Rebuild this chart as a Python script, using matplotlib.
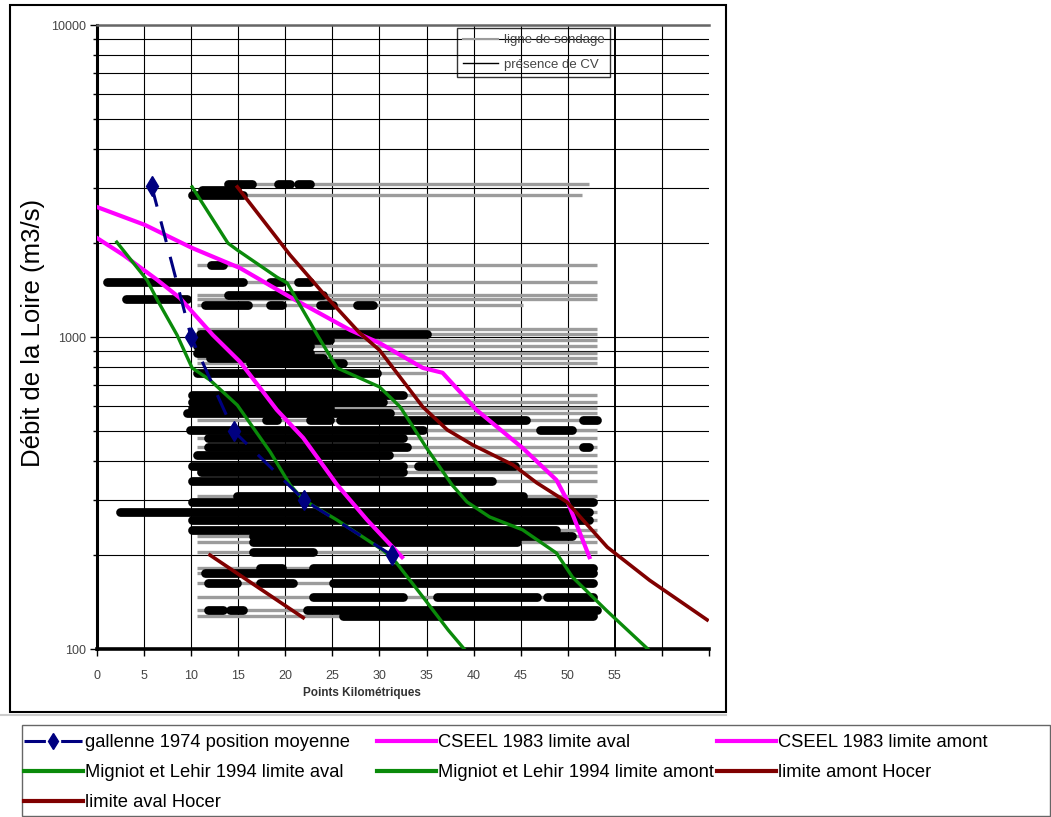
import matplotlib
matplotlib.use("Agg")
import matplotlib.pyplot as plt
from matplotlib.patches import Rectangle
from matplotlib.lines import Line2D

plt.rcParams['font.family'] = ['Liberation Sans', 'DejaVu Sans']

# ---------------- data ----------------
gal_x = [5.8, 10.0, 14.5, 22.0, 31.3]
gal_q = [3050, 1000, 500, 300, 200]

cseel_aval_x = [0, 2.8, 6.4, 8.8, 12.3, 15.2, 19.1, 21.9, 25.5, 28.7, 32.4]
cseel_aval_q = [2076, 1832, 1524, 1334, 1015, 832, 584, 475, 336, 259, 197]

cseel_amont_x = [0, 5.1, 10.1, 15.2, 20.5, 26.9, 30.0, 34.6, 36.7, 40.3, 45.2, 48.8, 49.9, 52.3]
cseel_amont_q = [2610, 2286, 1929, 1663, 1343, 1052, 957, 796, 768, 584, 441, 348, 301, 197]

mig_aval_x = [2.1, 5.3, 6.4, 8.5, 10.1, 12.0, 14.9, 18.4, 20.5, 21.9, 25.5, 30.4, 31.8, 34.6, 37.3, 39.0]
mig_aval_q = [2014, 1524, 1315, 1015, 796, 728, 605, 428, 336, 301, 259, 207, 189, 147, 115, 100]

mig_amont_x = [10.1, 13.9, 14.9, 19.1, 20.2, 23.4, 25.5, 30.0, 32.2, 35.0, 37.7, 39.3, 41.7, 45.2, 48.8, 50.5, 54.1, 58.5]
mig_amont_q = [3027, 2000, 1900, 1556, 1489, 1015, 796, 692, 597, 441, 336, 296, 265, 241, 203, 170, 133, 100]

hoc_amont_x = [14.9, 20.5, 24.0, 27.9, 30.0, 34.6, 37.2, 39.9, 44.2, 46.7, 49.9, 54.2, 58.7, 64.8]
hoc_amont_q = [3027, 1832, 1384, 1030, 908, 597, 504, 451, 389, 341, 296, 212, 166, 124]

hoc_aval_x = [12.0, 21.9]
hoc_aval_q = [200, 126]

# sounding lines (grey)
sonde_q = [3100, 2850, 1700, 1500, 1365, 1320, 1270, 1060, 1020, 980, 935, 890, 855, 825, 765,
           650, 620, 590, 570, 540, 505, 475, 445, 420, 385, 370, 345, 310, 295, 275, 260, 240,
           230, 220, 205, 182, 175, 163, 147, 133, 128]
sonde_x0 = [13.9, 10.1, 10.6, 10.6, 10.6, 10.6, 10.6, 10.6, 10.6, 10.6, 10.6, 10.6, 10.6, 10.6, 10.6,
            10.6, 10.6, 10.6, 10.6, 10.6, 10.6, 10.6, 10.6, 10.6, 10.6, 10.6, 10.6, 10.6, 10.6, 10.6,
            10.6, 10.6, 10.6, 10.6, 10.6, 10.6, 10.6, 10.6, 10.6, 10.6, 10.6]
sonde_x1 = [52.3, 51.5, 53.1, 53.1, 53.1, 53.1, 45.2, 53.1, 53.1, 53.1, 53.1, 53.1, 53.1, 53.1, 35.0,
            53.1, 53.1, 53.1, 53.1, 53.1, 53.1, 53.1, 53.1, 53.1, 53.1, 53.1, 53.1, 53.1, 53.1, 53.1,
            53.1, 53.1, 53.1, 53.1, 53.1, 53.1, 53.1, 53.1, 53.1, 53.1, 53.1]

# presence de crème de vase (black segments)
cv_q = [3100, 3100, 3100, 2950, 2850, 1700, 1500, 1500, 1500, 1365, 1320,
        1270, 1270, 1270, 1270, 1020, 980, 935, 890, 855, 825, 765, 650, 620, 590, 570,
        540, 540, 540, 540, 505, 505, 475, 445, 445, 420, 385, 385, 370, 345, 310, 295,
        275, 260, 240, 230, 220, 205, 182, 182, 175, 163, 163, 163, 147, 147, 147,
        133, 133, 133, 128]
cv_x0 = [13.9, 19.2, 21.3, 11.2, 10.1, 12.1, 1.1, 18.4, 21.3, 13.9, 3.1,
         11.5, 18.4, 23.7, 27.6, 10.9, 10.6, 10.6, 10.6, 12.0, 16.2, 10.6, 10.1, 10.1, 10.1, 9.6,
         18.0, 22.6, 25.8, 51.6, 9.9, 47.0, 11.8, 11.8, 51.6, 10.6, 10.1, 34.1, 11.0, 10.1, 14.9, 10.1,
         2.4, 10.1, 10.1, 16.6, 16.6, 16.6, 17.3, 22.9, 11.5, 11.8, 17.3, 25.1, 22.9, 36.1, 47.8,
         11.8, 14.1, 22.3, 26.1]
cv_x1 = [16.5, 20.5, 22.6, 14.9, 15.5, 13.4, 15.5, 19.7, 22.6, 24.0, 9.6,
         16.0, 19.7, 25.1, 29.3, 35.1, 24.7, 22.6, 22.6, 24.0, 26.1, 29.7, 32.5, 30.4, 24.7, 31.1,
         19.1, 24.7, 45.6, 53.1, 34.6, 50.5, 32.5, 32.9, 52.3, 31.0, 32.5, 44.4, 32.5, 42.0, 45.2, 52.7,
         52.3, 52.3, 48.8, 50.5, 44.6, 22.9, 19.7, 52.7, 52.7, 14.9, 20.8, 52.7, 32.5, 46.7, 52.7,
         13.4, 15.5, 53.1, 52.7]

x_ticks = [0, 5, 10, 15, 20, 25, 30, 35, 40, 45, 50, 55, 60, 65]
x_labels = ['0', '5', '10', '15', '20', '25', '30', '35', '40', '45', '50', '55', '', '']
y_ticks = [100, 1000, 10000]
y_labels = ['100', '1000', '10000']

# ---------------- figure ----------------
W, H = 1051, 817
fig = plt.figure(figsize=(W / 100, H / 100), dpi=100)


def fx(px):
    return px / W


def fy(py):
    return 1 - py / H


ax = fig.add_axes([fx(97), fy(649), fx(709) - fx(97), fy(25) - fy(649)])
ax.set_yscale('log')
ax.set_xlim(0, 65)
ax.set_ylim(100, 10000)

# grid
ax.grid(True, which='both', axis='y', color='black', lw=0.8, zorder=0.5)
for v in x_ticks[1:-1]:
    ax.axvline(v, color='black', lw=1.4 if v == 55 else 0.8, zorder=0.5)
ax.set_axisbelow(True)

# soundings and CV
ax.hlines(sonde_q, sonde_x0, sonde_x1, colors='#9c9c9c', lw=2.4, zorder=2)
ax.hlines(cv_q, cv_x0, cv_x1, colors='black', lw=6.3, zorder=3, capstyle='round')

# curves
ax.plot(cseel_aval_x, cseel_aval_q, color='#ff00ff', lw=3, zorder=5)
ax.plot(cseel_amont_x, cseel_amont_q, color='#ff00ff', lw=3, zorder=5)
ax.plot(mig_aval_x, mig_aval_q, color='#0a8a0a', lw=2.4, zorder=6)
ax.plot(mig_amont_x, mig_amont_q, color='#0a8a0a', lw=2.4, zorder=6)
ax.plot(hoc_amont_x, hoc_amont_q, color='#800000', lw=2.6, zorder=6)
ax.plot(hoc_aval_x, hoc_aval_q, color='#800000', lw=2.6, zorder=6)
ax.plot(gal_x, gal_q, color='#000080', lw=2.2, dashes=(7, 5), marker='d',
        markersize=10, zorder=7)

# axes styling
ax.spines['right'].set_visible(False)
ax.spines['top'].set_color('#666666')
ax.spines['top'].set_linewidth(1.8)
ax.spines['left'].set_linewidth(2.2)
ax.spines['bottom'].set_linewidth(2.6)
ax.set_xticks(x_ticks)
ax.set_xticklabels(x_labels)
ax.set_yticks(y_ticks)
ax.set_yticklabels(y_labels)
ax.tick_params(axis='x', length=5, width=1, pad=10, labelsize=9, labelcolor='#444444')
ax.tick_params(axis='y', which='major', length=5, width=1, pad=3, labelsize=9, labelcolor='#444444')
ax.tick_params(axis='y', which='minor', length=3, width=1, labelleft=False)

# inner legend
inner = ax.legend(handles=[Line2D([], [], color='#9c9c9c', lw=1.5),
                           Line2D([], [], color='black', lw=1)],
                  labels=['ligne de sondage', 'présence de CV'],
                  loc='upper left', bbox_to_anchor=(0.588, 0.995), borderaxespad=0,
                  fontsize=9.5, frameon=True, fancybox=False, edgecolor='black',
                  handlelength=2.7, handletextpad=0.4, borderpad=0.45, labelspacing=0.95,
                  labelcolor='#444444')
inner.get_frame().set_linewidth(1)
inner.get_frame().set_facecolor('none')

# labels
fig.text(fx(33), fy(333), 'Débit de la Loire (m3/s)', rotation=90, ha='center', va='center',
         fontsize=18.5)
fig.text(fx(362), fy(693), 'Points Kilométriques', ha='center', va='center', fontsize=8.5,
         fontweight='bold', color='#333333')

# boxes
fig.patches.append(Rectangle((fx(10), fy(712)), fx(726) - fx(10), fy(5) - fy(712),
                             transform=fig.transFigure, fill=False, ec='black', lw=1.5))
fig.lines.append(Line2D([0, fx(726)], [fy(714.5), fy(714.5)], transform=fig.transFigure,
                        color='#cccccc', lw=1.5))
fig.patches.append(Rectangle((fx(22), fy(816)), fx(1050) - fx(22), fy(725) - fy(816),
                             transform=fig.transFigure, fill=False, ec='#666666', lw=1))

# bottom legend (three columns)
h_gal = Line2D([], [], color='#000080', lw=2.2, dashes=(7, 5), marker='d', markersize=8)
h_mag = Line2D([], [], color='#ff00ff', lw=3)
h_grn = Line2D([], [], color='#0a8a0a', lw=3)
h_red = Line2D([], [], color='#800000', lw=3)
cols = [
    (24, [h_gal, h_grn, h_red], ['gallenne 1974 position moyenne', 'Migniot et Lehir 1994 limite aval',
                                 'limite aval Hocer']),
    (377, [h_mag, h_grn], ['CSEEL 1983 limite aval', 'Migniot et Lehir 1994 limite amont']),
    (717, [h_mag, h_red], ['CSEEL 1983 limite amont', 'limite amont Hocer']),
]
for px, hs, ls in cols:
    fig.legend(handles=hs, labels=ls, loc='upper left', bbox_to_anchor=(fx(px), fy(734)),
               frameon=False, fontsize=13.2, handlelength=3.2, handletextpad=0.15,
               labelspacing=0.72, borderpad=0, borderaxespad=0)

fig.savefig('out.png', dpi=100)
